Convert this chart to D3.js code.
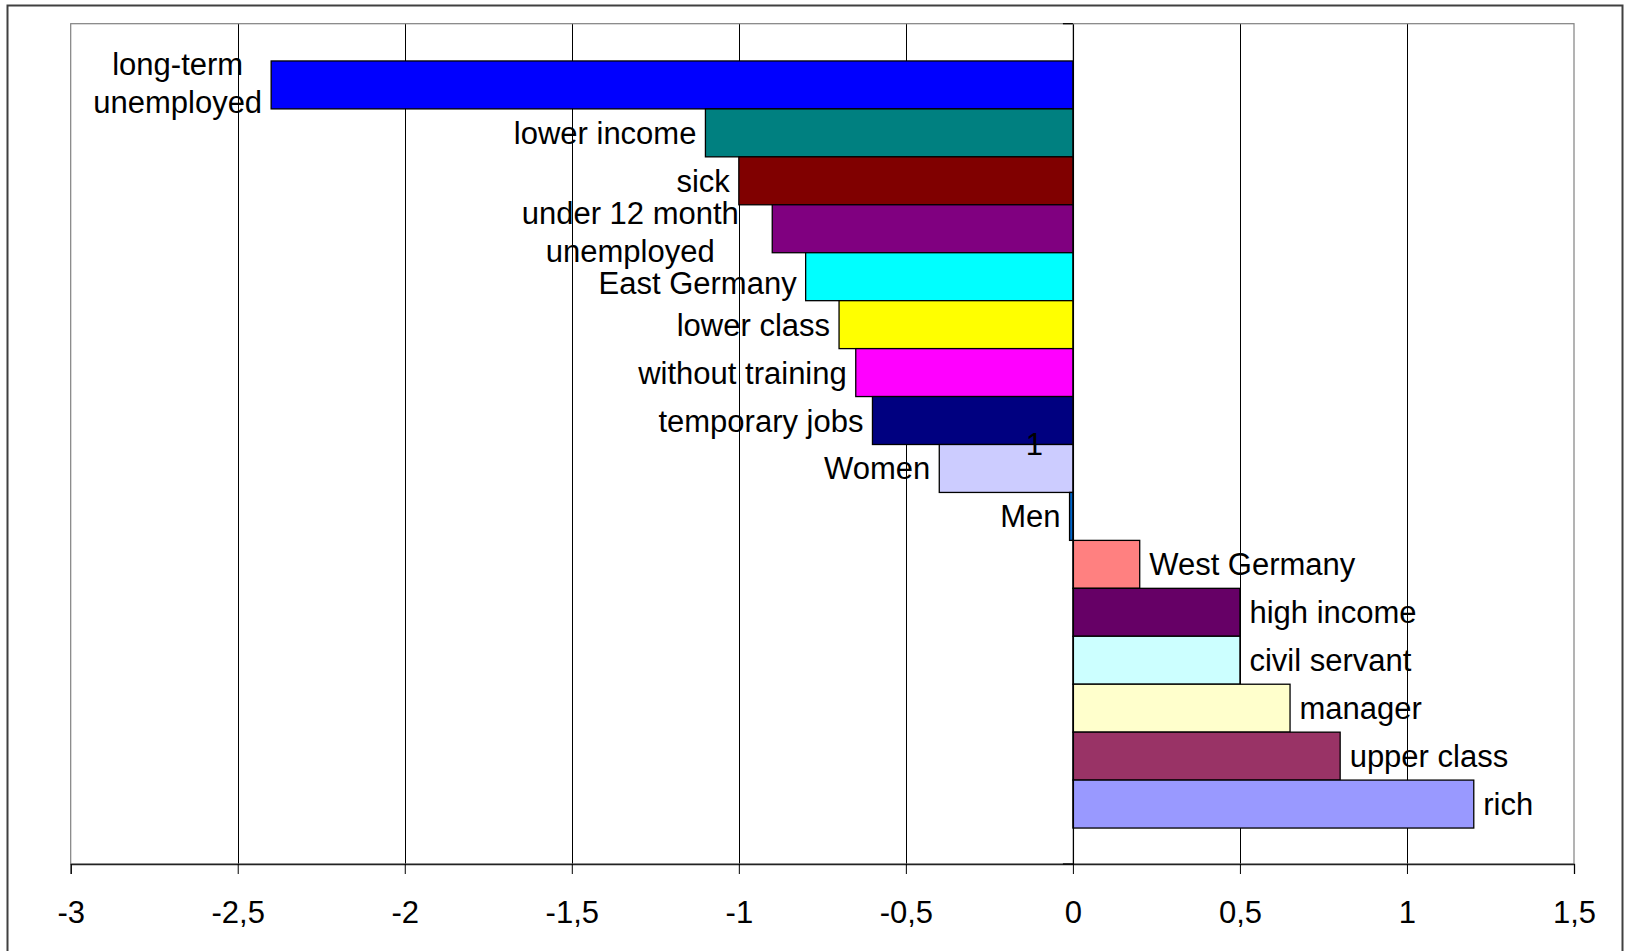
<!DOCTYPE html>
<html>
<head>
<meta charset="utf-8">
<script src="https://cdn.jsdelivr.net/npm/d3@7"></script>
<style>
  html, body { margin: 0; padding: 0; background: #ffffff; }
  svg { display: block; }
  text { font-family: "Liberation Sans", Arial, sans-serif; fill: #000; }
</style>
</head>
<body>
<svg id="chart" width="1626" height="951"></svg>
<script>
// ---- data ----
const categories = [
  "long-term\nunemployed", "lower income", "sick", "under 12 month\nunemployed",
  "East Germany", "lower class", "without training", "temporary jobs",
  "Women", "Men", "West Germany", "high income", "civil servant",
  "manager", "upper class", "rich"
];
const values = [-2.4, -1.1, -1.0, -0.9, -0.8, -0.7, -0.65, -0.6, -0.4, -0.01,
                0.2, 0.5, 0.5, 0.65, 0.8, 1.2];
const colors = ["#0000FF", "#008080", "#800000", "#800080", "#00FFFF", "#FFFF00",
                "#FF00FF", "#000080", "#CCCCFF", "#0066CC", "#FF8080", "#660066",
                "#CCFFFF", "#FFFFCC", "#993366", "#9999FF"];
const xTickValues = [-3, -2.5, -2, -1.5, -1, -0.5, 0, 0.5, 1, 1.5];
const xTickLabels = ["-3", "-2,5", "-2", "-1,5", "-1", "-0,5", "0", "0,5", "1", "1,5"];
const categoryAxisLabels = ["1"];

// ---- layout ----
const svg = d3.select("#chart");
const plot = { left: 70.7, right: 1574, top: 23.7, bottom: 864 };
const fontSize = 31;

const x = d3.scaleLinear().domain([-3, 1.5]).range([plot.left, plot.right]);
const y = d3.scaleBand().domain(d3.range(categories.length))
  .range([plot.top + 1.3, plot.bottom]).paddingInner(0).paddingOuter(0.75);
const bw = y.bandwidth();
const x0 = x(0);

// outer frame
svg.append("rect").attr("x", 7.5).attr("y", 5.5).attr("width", 1615).attr("height", 960)
  .attr("fill", "#fff").attr("stroke", "#404040").attr("stroke-width", 2);

// gridlines
svg.append("g").selectAll("line").data(xTickValues.filter(v => v > -3 && v < 1.5 && v !== 0))
  .join("line")
  .attr("x1", d => Math.round(x(d)) + 0.5).attr("x2", d => Math.round(x(d)) + 0.5)
  .attr("y1", plot.top).attr("y2", plot.bottom)
  .attr("stroke", "#000").attr("stroke-width", 1);

// plot area border
svg.append("rect").attr("x", plot.left).attr("y", plot.top)
  .attr("width", plot.right - plot.left).attr("height", plot.bottom - plot.top)
  .attr("fill", "none").attr("stroke", "#808080").attr("stroke-width", 1.2);

// bars
svg.append("g").selectAll("rect").data(values).join("rect")
  .attr("x", d => Math.min(x(d), x0))
  .attr("y", (d, i) => y(i))
  .attr("width", d => Math.abs(x(d) - x0))
  .attr("height", bw)
  .attr("fill", (d, i) => colors[i])
  .attr("stroke", "#000").attr("stroke-width", 1.3);

// x axis (value axis) at bottom
const xAxis = d3.axisBottom(x).tickValues(xTickValues)
  .tickFormat((d, i) => xTickLabels[i]).tickSize(10).tickPadding(27);
const ax = svg.append("g").attr("transform", `translate(0,${plot.bottom})`).call(xAxis);
ax.select(".domain").attr("stroke", "#222").attr("stroke-width", 1.3);
ax.selectAll(".tick line").attr("stroke", "#000");
ax.selectAll(".tick text").attr("font-size", fontSize)
  .attr("font-family", "'Liberation Sans', Arial, sans-serif").attr("fill", "#000");

// category axis at x = 0
const yCat = d3.scaleBand().domain(categoryAxisLabels).range([plot.top, plot.bottom]);
const cAxis = d3.axisLeft(yCat).tickSize(0).tickPadding(30);
const cax = svg.append("g").attr("transform", `translate(${x0},0)`).call(cAxis);
cax.select(".domain").attr("stroke", "#000").attr("stroke-width", 1.3);
cax.selectAll(".tick text").attr("font-size", fontSize)
  .attr("font-family", "'Liberation Sans', Arial, sans-serif").attr("fill", "#000")
  .attr("dy", "0.36em");
// category boundary tick marks
cax.append("g").selectAll("line").data([plot.top, plot.bottom]).join("line")
  .attr("x1", -10).attr("x2", 0).attr("y1", d => d).attr("y2", d => d)
  .attr("stroke", "#000").attr("stroke-width", 1.3);

// data labels (series names) with simple collision avoidance
const lineH = 38.3, ascent = 24.5, descent = 7.5;
const labelG = svg.append("g");
const labels = categories.map((c, i) => {
  const lines = c.split("\n");
  const t = labelG.append("text").attr("font-size", fontSize).attr("text-anchor", "middle");
  lines.forEach(l => t.append("tspan").text(l));
  const widths = [];
  t.selectAll("tspan").each(function() { widths.push(this.getComputedTextLength()); });
  const n = lines.length;
  const center = y(i) + bw / 2;
  const first = center + (n > 1 ? 9 : 11) - (n - 1) * lineH / 2;
  return { i, lines, n, t, w: d3.max(widths), first };
});
const vTop = L => L.first - ascent;
const vBot = L => L.first + (L.n - 1) * lineH + descent;
function placeX(L) {
  const v = values[L.i];
  if (v < 0) {
    let right = x(v) - 9;
    values.forEach((vj, j) => {
      if (j === L.i || vj >= 0) return;
      const bt = y(j), bb = y(j) + bw;
      if (bb > vTop(L) && bt < vBot(L)) right = Math.min(right, x(vj));
    });
    L.cx = right - L.w / 2;
  } else {
    L.cx = x(v) + 9.5 + L.w / 2;
  }
  L.x1 = L.cx - L.w / 2; L.x2 = L.cx + L.w / 2;
}
labels.forEach(placeX);
// push labels down when they overlap an earlier label (in both directions)
labels.forEach((L, k) => {
  labels.slice(0, k).forEach(P => {
    const hOverlap = P.x2 > L.x1 && P.x1 < L.x2;
    if (hOverlap && vTop(L) < vBot(P)) L.first += vBot(P) - vTop(L);
  });
  placeX(L);
});
labels.forEach(L => {
  L.t.selectAll("tspan")
    .attr("x", L.cx)
    .attr("y", (d, k) => L.first + k * lineH);
});
</script>
</body>
</html>
